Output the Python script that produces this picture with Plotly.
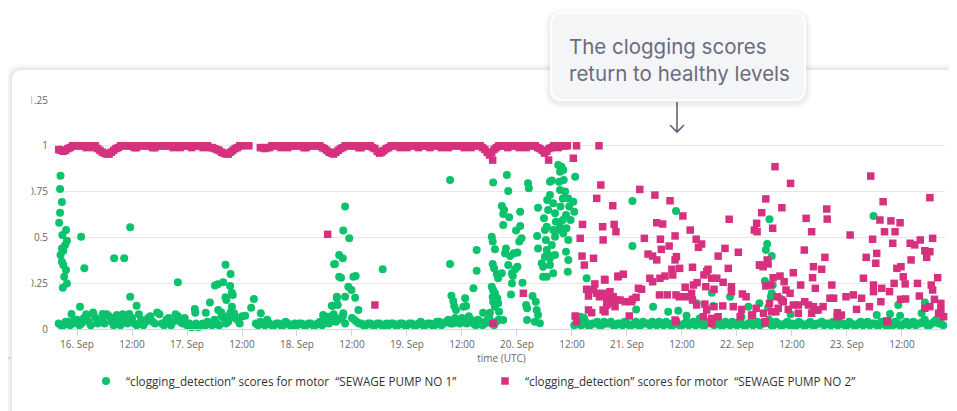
import numpy as np
import pandas as pd
import plotly.graph_objects as go

# time origin: 16 Sep 00:00 UTC, all times below are hours after it
T0 = pd.Timestamp("2022-09-16 00:00")

# pump 1 background level, hourly from 15 Sep 20:00 (hour -4)
pump1_base_start = -4
pump1_base = [
    0.03, 0.02, 0.04, 0.03,
    0.05, 0.03, 0.08, 0.02, 0.06, 0.04, 0.03, 0.07, 0.02, 0.05, 0.08, 0.03,
    0.06, 0.02, 0.05, 0.04, 0.07, 0.03, 0.08, 0.02, 0.06, 0.04, 0.07, 0.03,
    0.02, 0.01, 0.03, 0.02, 0.02, 0.03, 0.05, 0.02, 0.06, 0.04, 0.08, 0.05,
    0.07, None, None, 0.03, 0.04, 0.02, 0.03, 0.02, 0.03, 0.02, 0.03, 0.02,
    0.02, 0.03, 0.02, 0.03, 0.02, 0.04, 0.06, 0.03, 0.08, 0.05, 0.07, None,
    0.06, 0.04, 0.03, 0.02, 0.03, 0.02, 0.03, 0.02, 0.02, 0.03, 0.02, 0.03,
    0.02, 0.03, 0.02, 0.04, 0.02, 0.03, 0.02, 0.04, 0.03, 0.05, 0.03, 0.04,
    0.06, 0.03, 0.05, 0.02, 0.04, 0.03, 0.06, 0.02, 0.05, None, None, None,
    None, None, None, None, None, None, None, None, None, None, None, None,
    None, 0.03, 0.02, 0.04, 0.02, 0.03, 0.02, 0.04, 0.03, 0.02, 0.03, 0.02,
    0.03, 0.02, 0.04, 0.02, 0.03, 0.02, 0.03, 0.04, 0.02, 0.03, 0.02, 0.03,
    0.02, 0.04, 0.03, 0.02, 0.03, 0.02, 0.04, 0.02, 0.03, 0.02, 0.03, 0.04,
    0.02, 0.03, 0.02, 0.04, 0.03, 0.02, 0.03, 0.05, 0.02, 0.03, 0.02, 0.04,
    0.03, 0.02, 0.03, 0.02, 0.04, 0.02, 0.03, 0.02, 0.03, 0.04, 0.02, 0.03,
    0.02, 0.03, 0.02, 0.04, 0.03, 0.02, 0.03, 0.02, 0.04, 0.03, 0.02, 0.03,
    0.02, 0.04, 0.03, 0.02, 0.03, 0.05, 0.02, 0.04, 0.03, 0.02,
]

# pump 1 background level, the readings in between (from 15 Sep 20:30)
pump1_base_b_start = -3.5
pump1_base_b = [
    0.02, 0.04, 0.02, 0.05,
    0.02, 0.06, 0.04, 0.09, 0.03, 0.05, 0.08, 0.04, 0.06, 0.02, 0.05, 0.07,
    0.03, 0.08, 0.02, 0.06, 0.04, 0.09, 0.03, 0.05, 0.02, 0.08, 0.04, 0.06,
    0.03, 0.02, 0.01, 0.03, 0.04, 0.02, 0.03, 0.07, 0.03, 0.09, 0.06, 0.03,
    None, None, None, 0.02, 0.03, 0.05, 0.02, 0.03, 0.02, 0.04, 0.02, 0.03,
    0.03, 0.02, 0.03, 0.02, 0.03, 0.02, 0.05, 0.07, 0.04, 0.06, 0.03, None,
    0.05, 0.03, 0.02, 0.03, 0.02, 0.03, 0.02, 0.03, 0.03, 0.02, 0.03, 0.02,
    0.03, 0.02, 0.03, 0.02, 0.03, 0.02, 0.04, 0.02, 0.04, 0.03, 0.06, 0.03,
    0.04, 0.07, 0.03, 0.05, 0.02, 0.05, 0.03, 0.04, None, None, None, None,
    None, None, None, None, None, None, None, None, None, None, None, None,
    0.02, 0.03, 0.04, 0.02, 0.03, 0.04, 0.02, 0.03, 0.04, 0.02, 0.03, 0.04,
    0.02, 0.03, 0.02, 0.04, 0.03, 0.04, 0.02, 0.03, 0.04, 0.02, 0.04, 0.02,
    0.03, 0.02, 0.04, 0.03, 0.02, 0.04, 0.03, 0.04, 0.02, 0.04, 0.02, 0.03,
    0.04, 0.02, 0.03, 0.02, 0.04, 0.03, 0.04, 0.02, 0.04, 0.02, 0.03, 0.02,
    0.02, 0.04, 0.02, 0.03, 0.02, 0.03, 0.04, 0.03, 0.02, 0.03, 0.04, 0.02,
    0.04, 0.02, 0.03, 0.02, 0.04, 0.03, 0.02, 0.04, 0.02, 0.02, 0.04, 0.02,
    0.03, 0.02, 0.04, 0.03, 0.04, 0.02, 0.03, 0.05, 0.03,
]

# pump 1 readings away from the background level (hour, score)
pump1_outliers = [
    (-3.6, 0.837), (-3.7, 0.764), (-3.3, 0.693), (-3.7, 0.635), (-3.9, 0.58),
    (-2.4, 0.54), (-3.2, 0.513), (-2.2, 0.482), (-2.6, 0.459), (-3.3, 0.44),
    (-3.0, 0.427), (-3.6, 0.404), (-3.3, 0.367), (-3.0, 0.349), (-2.4, 0.322),
    (-2.8, 0.285), (-2.2, 0.249), (-3.1, 0.225), (-1.2, 0.082),
    (0.9, 0.504), (1.6, 0.331), (0.65, 0.122), (2.1, 0.058), (3.6, 0.082),
    (5.6, 0.082), (8.7, 0.076), (8.1, 0.386), (10.3, 0.386), (11.6, 0.555),
    (11.6, 0.176), (11.4, 0.082), (13.0, 0.127), (22.0, 0.255),
    (25.7, 0.109), (25.8, 0.089), (29.0, 0.144), (28.1, 0.089), (30.1, 0.237),
    (30.7, 0.244), (31.9, 0.255), (32.4, 0.351), (33.5, 0.3), (33.4, 0.235),
    (33.8, 0.198), (34.0, 0.186), (32.4, 0.173), (32.6, 0.158), (33.8, 0.122),
    (30.8, 0.104), (34.3, 0.086), (36.7, 0.073), (38.0, 0.116), (38.6, 0.164),
    (40.1, 0.086), (31.5, 0.09), (33.0, 0.07),
    (53.7, 0.076), (54.5, 0.067), (55.6, 0.127), (55.8, 0.127), (56.9, 0.131),
    (56.7, 0.168), (56.1, 0.353), (56.3, 0.355), (57.2, 0.404), (57.2, 0.285),
    (57.6, 0.28), (58.0, 0.386), (58.1, 0.537), (58.5, 0.668), (59.4, 0.495),
    (60.3, 0.285), (60.8, 0.289), (59.2, 0.231), (59.9, 0.213), (58.5, 0.176),
    (56.7, 0.176), (60.7, 0.17), (61.4, 0.104), (58.1, 0.086), (66.7, 0.326),
    (81.4, 0.813), (81.4, 0.355), (81.7, 0.182), (82.1, 0.153), (82.3, 0.126),
    (82.7, 0.104), (84.7, 0.168), (84.3, 0.122), (84.9, 0.126), (86.5, 0.222),
    (87.2, 0.431), (87.2, 0.318), (88.6, 0.089),
    (90.5, 0.504), (90.8, 0.8), (90.7, 0.477), (91.2, 0.435), (90.7, 0.355),
    (91.0, 0.331), (91.6, 0.3), (92.7, 0.304), (91.9, 0.277), (90.5, 0.231),
    (90.8, 0.213), (91.2, 0.195), (90.7, 0.176), (91.7, 0.168), (90.8, 0.149),
    (91.9, 0.14), (91.2, 0.122), (90.1, 0.089), (92.1, 0.094), (93.0, 0.049),
    (92.7, 0.671), (93.2, 0.65), (93.0, 0.628), (94.1, 0.753), (93.8, 0.841),
    (93.0, 0.568), (94.3, 0.61), (93.6, 0.44), (93.4, 0.413), (94.5, 0.398),
    (95.3, 0.413), (94.1, 0.349), (96.1, 0.417), (95.8, 0.537), (96.7, 0.64),
    (96.7, 0.562), (97.0, 0.495), (96.5, 0.477), (96.1, 0.34), (95.6, 0.326),
    (94.9, 0.304), (95.1, 0.289), (94.9, 0.249), (97.2, 0.253), (94.7, 0.189),
    (98.4, 0.795), (98.6, 0.768), (99.4, 0.18), (100.1, 0.149), (98.0, 0.131),
    (98.2, 0.113), (100.3, 0.104), (100.6, 0.076), (98.2, 0.049), (99.9, 0.04),
    (101.0, 0.031), (100.6, 0.662), (100.4, 0.508), (100.6, 0.44),
    (101.4, 0.359), (101.7, 0.285), (101.7, 0.34), (102.1, 0.395),
    (102.5, 0.431), (102.3, 0.486), (102.1, 0.54), (102.5, 0.558),
    (101.9, 0.604), (102.8, 0.65), (102.6, 0.704), (103.2, 0.731),
    (103.2, 0.804), (103.6, 0.81), (103.9, 0.686), (104.3, 0.632),
    (104.5, 0.586), (103.9, 0.54), (105.0, 0.54), (104.3, 0.504),
    (103.6, 0.459), (102.9, 0.404), (103.2, 0.386), (104.3, 0.404),
    (103.2, 0.349), (103.9, 0.304), (102.5, 0.285), (105.0, 0.895),
    (105.7, 0.886), (105.4, 0.859), (106.1, 0.868), (105.2, 0.804),
    (106.2, 0.813), (105.4, 0.759), (106.5, 0.75), (106.0, 0.713),
    (107.2, 0.713), (105.5, 0.668), (107.4, 0.668), (106.7, 0.622),
    (106.0, 0.595), (105.4, 0.558), (108.3, 0.695), (108.5, 0.64),
    (107.7, 0.595), (106.8, 0.55), (106.1, 0.522), (107.2, 0.486),
    (106.7, 0.422), (107.2, 0.377), (107.1, 0.313), (108.7, 0.831),
    (111.2, 0.277), (109.8, 0.067), (110.6, 0.062),
    (121.2, 0.699), (130.7, 0.644), (121.2, 0.453), (125.7, 0.122),
    (129.0, 0.094), (131.2, 0.1), (133.0, 0.073), (122.0, 0.107),
    (138.5, 0.198), (135.2, 0.14), (138.8, 0.126), (135.9, 0.058),
    (142.5, 0.176), (146.5, 0.122), (145.0, 0.067),
    (151.1, 0.599), (150.6, 0.464), (150.3, 0.431), (151.6, 0.398),
    (150.1, 0.262), (151.8, 0.24), (151.6, 0.195), (151.4, 0.176),
    (150.8, 0.118), (148.9, 0.14), (155.7, 0.08), (153.4, 0.168),
    (173.8, 0.617), (179.2, 0.131), (177.4, 0.082), (174.5, 0.076),
    (179.6, 0.073), (185.0, 0.144), (184.3, 0.086),
]

# pump 2 score, hourly from 15 Sep 20:00 until 20 Sep 11:00
pump2_band_start = -4
pump2_band = [
    0.98, 0.97, 0.985, 1.0,
    1.0, 1.0, 0.99, 1.0, 1.0, 0.975, 0.96, 0.955, 0.975, 0.99, 1.0, 1.0,
    1.0, 0.99, 1.0, 1.0, 1.0, 0.99, 1.0, 1.0, 1.0, 0.99, 1.0, 1.0,
    1.0, 0.99, 1.0, 1.0, 1.0, 0.99, 0.985, 0.975, 0.96, 0.955, 0.975, 0.99,
    1.0, None, None, None, 0.99, 0.985, 0.99, 1.0, 1.0, 1.0, 0.99, 1.0,
    1.0, 1.0, 0.99, 1.0, 1.0, 1.0, 0.985, 0.965, 0.955, 0.975, 0.99, 1.0,
    1.0, 1.0, 0.99, 1.0, 1.0, 0.985, 0.96, 0.975, 0.99, 1.0, 1.0, 1.0,
    0.99, 1.0, 1.0, 1.0, 1.0, 0.99, 1.0, 1.0, 1.0, 0.99, 1.0, 1.0,
    1.0, 1.0, 0.99, 1.0, 1.0, 0.98, 0.95, 0.98, 1.0, 1.0, 0.99, 1.0,
    1.0, 1.0, 0.99, 1.0, 1.0, 0.985, 0.96, 0.985, 1.0, 0.99, 1.0, 1.0,
]

# pump 2 score, the readings in between (from 15 Sep 20:30)
pump2_band_b_start = -3.5
pump2_band_b = [
    0.975, 0.975, 0.99, 1.0,
    1.0, 1.0, 1.0, 0.99, 0.985, 0.965, 0.955, 0.965, 0.985, 1.0, 1.0, 1.0,
    0.99, 1.0, 1.0, 1.0, 0.99, 1.0, 1.0, 1.0, 1.0, 1.0, 0.99, 1.0,
    1.0, 1.0, 1.0, 0.99, 1.0, 0.99, 0.98, 0.965, 0.955, 0.965, 0.985, 1.0,
    None, 1.0, None, None, 0.99, 0.99, 1.0, 1.0, 0.99, 1.0, 1.0, 1.0,
    1.0, 0.99, 1.0, 1.0, 1.0, 0.99, 0.975, 0.96, 0.965, 0.985, 1.0, 1.0,
    1.0, 0.99, 1.0, 1.0, 0.99, 0.97, 0.965, 0.985, 1.0, 1.0, 0.99, 1.0,
    1.0, 1.0, 0.99, 1.0, 1.0, 1.0, 1.0, 0.99, 1.0, 1.0, 1.0, 1.0,
    0.99, 1.0, 1.0, 1.0, 0.99, 0.965, 0.965, 0.99, 1.0, 1.0, 1.0, 1.0,
    0.99, 1.0, 1.0, 1.0, 0.99, 0.975, 0.97, 0.99, 1.0, 1.0, 1.0, None,
]

# pump 2 readings off the band (hour, score)
pump2_outliers = [
    (54.7, 0.517), (65.0, 0.131), (90.7, 0.922), (102.9, 0.922), (97.4, 0.195),
    (90.8, 0.031),
    (108.3, 0.932), (109.0, 1.0), (113.9, 1.0), (114.3, 0.786), (113.4, 0.713),
    (116.9, 0.673), (110.3, 0.571), (114.7, 0.558), (117.2, 0.571),
    (117.6, 0.531), (109.8, 0.495), (114.8, 0.486), (110.2, 0.398),
    (112.7, 0.386), (110.7, 0.349), (118.0, 0.285), (113.0, 0.246),
    (115.2, 0.267), (111.2, 0.217), (112.7, 0.213), (113.4, 0.195),
    (114.8, 0.195), (116.3, 0.204), (111.6, 0.18), (114.0, 0.176),
    (115.6, 0.168), (117.0, 0.176), (117.7, 0.158), (115.6, 0.131),
    (116.3, 0.14), (117.4, 0.122), (111.6, 0.104), (112.3, 0.089),
    (115.2, 0.094), (108.7, 0.071), (109.0, 0.04),
    (122.8, 0.762), (126.1, 0.731), (129.4, 0.7), (132.2, 0.617),
    (142.3, 0.599), (126.5, 0.58), (127.8, 0.573), (133.8, 0.54),
    (147.8, 0.54), (148.4, 0.531), (123.8, 0.495), (127.3, 0.49),
    (130.5, 0.508), (135.1, 0.49), (136.3, 0.464), (135.6, 0.446),
    (141.4, 0.44), (144.3, 0.419), (129.2, 0.453), (127.5, 0.435),
    (124.6, 0.409), (125.6, 0.398), (126.5, 0.377), (130.8, 0.395),
    (130.5, 0.377), (139.9, 0.398), (134.3, 0.337), (129.8, 0.326),
    (131.5, 0.331), (137.7, 0.326), (142.1, 0.331), (148.9, 0.349),
    (118.1, 0.289), (119.2, 0.299), (115.1, 0.271), (130.0, 0.295),
    (128.3, 0.289), (127.2, 0.277), (125.0, 0.277), (125.6, 0.258),
    (136.8, 0.295), (137.4, 0.313), (138.5, 0.277), (139.6, 0.277),
    (141.0, 0.255), (132.7, 0.228), (134.5, 0.24), (135.3, 0.253),
    (122.5, 0.222), (123.2, 0.217), (121.2, 0.162), (122.0, 0.173),
    (127.1, 0.186), (128.8, 0.186), (130.7, 0.186), (131.4, 0.176),
    (132.8, 0.176), (134.1, 0.195), (137.2, 0.231), (139.0, 0.217),
    (142.8, 0.231), (142.8, 0.204), (145.2, 0.191), (146.0, 0.176),
    (118.5, 0.158), (119.6, 0.149), (114.8, 0.104), (120.5, 0.071),
    (121.0, 0.149), (130.5, 0.049), (134.3, 0.158), (135.2, 0.131),
    (137.0, 0.136), (137.4, 0.104), (136.7, 0.067), (138.5, 0.058),
    (139.9, 0.067), (139.0, 0.122), (140.9, 0.126), (143.2, 0.122),
    (145.0, 0.107), (147.2, 0.076), (144.7, 0.067), (130.7, 0.04),
    (138.5, 0.031), (150.1, 0.034), (176.7, 0.044),
    (152.3, 0.886), (155.7, 0.795), (150.3, 0.71), (153.8, 0.662),
    (149.4, 0.635), (148.3, 0.577), (151.8, 0.55), (159.1, 0.604),
    (160.3, 0.531), (163.6, 0.655), (163.7, 0.6), (168.7, 0.513),
    (173.2, 0.835), (175.9, 0.695), (175.2, 0.595), (177.6, 0.59),
    (179.6, 0.58), (176.2, 0.531), (178.5, 0.531), (173.6, 0.49),
    (178.0, 0.468), (174.5, 0.413), (172.2, 0.391), (174.3, 0.359),
    (181.8, 0.468), (182.8, 0.459), (184.0, 0.486), (186.7, 0.495),
    (186.1, 0.717), (185.0, 0.427), (186.1, 0.422), (185.4, 0.391),
    (182.0, 0.377), (179.8, 0.34), (178.9, 0.331), (187.8, 0.28),
    (158.7, 0.431), (163.2, 0.391), (160.7, 0.34), (162.5, 0.326),
    (156.3, 0.307), (160.5, 0.28), (149.0, 0.349), (149.7, 0.34),
    (150.6, 0.377), (150.8, 0.355), (151.9, 0.28), (153.4, 0.289),
    (154.3, 0.258), (150.3, 0.235), (151.4, 0.24), (157.9, 0.24),
    (164.7, 0.24), (161.1, 0.222), (171.6, 0.277), (173.8, 0.24),
    (175.6, 0.222), (177.3, 0.204), (178.3, 0.249), (180.3, 0.285),
    (180.7, 0.246), (183.4, 0.249), (179.7, 0.162), (180.8, 0.164),
    (183.8, 0.18), (186.4, 0.24), (186.7, 0.213), (187.1, 0.162),
    (188.5, 0.14), (186.1, 0.122), (185.0, 0.113), (188.0, 0.086),
    (189.1, 0.067), (188.5, 0.104), (154.7, 0.213), (155.6, 0.195),
    (152.8, 0.176), (153.8, 0.158), (154.1, 0.149), (156.3, 0.131),
    (157.4, 0.131), (158.8, 0.149), (159.6, 0.131), (160.7, 0.122),
    (161.7, 0.104), (162.8, 0.122), (164.3, 0.168), (165.1, 0.168),
    (165.9, 0.089), (166.8, 0.076), (165.9, 0.067), (167.8, 0.176),
    (169.4, 0.186), (171.2, 0.168), (170.1, 0.107), (172.9, 0.122),
    (173.8, 0.204), (175.4, 0.149), (176.9, 0.04), (148.2, 0.113),
    (147.4, 0.076), (149.8, 0.086), (150.1, 0.04), (151.1, 0.14),
    (151.6, 0.094), (152.5, 0.094), (153.0, 0.113), (157.4, 0.086),
    (160.3, 0.086), (161.4, 0.104), (155.2, 0.107),
]

tick_hours = [0, 12, 24, 36, 48, 60, 72, 84, 96, 108, 120, 132, 144, 156, 168, 180]
tick_labels = ["16. Sep", "12:00", "17. Sep", "12:00", "18. Sep", "12:00",
               "19. Sep", "12:00", "20. Sep", "12:00", "21. Sep", "12:00",
               "22. Sep", "12:00", "23. Sep", "12:00"]
x_window = [-4.15, 189.4]

name1 = "“clogging_detection” scores for motor  “SEWAGE PUMP NO 1”"
name2 = "“clogging_detection” scores for motor  “SEWAGE PUMP NO 2”"
note = "The clogging scores<br>return to healthy levels"

GREEN = "#0cc26d"
PINK = "#d6317f"
FONT = "Open Sans, Arial, sans-serif"


def to_time(hours):
    return T0 + pd.to_timedelta(np.asarray(hours, dtype=float), unit="h")


def hourly(start, values):
    return to_time(start + np.arange(len(values)))


# the page puts the figure 8px in from the window corner
OFF = 8
W, H = 957 - OFF, 411 - OFF
# plot area in figure pixels
PL, PR, PT, PB = 58 - OFF, 945 - OFF, 100 - OFF, 329 - OFF


def p(x, y):
    """window pixel -> pixel offset from the plot's bottom-left corner"""
    return f"{x - OFF - PL},{PB - (y - OFF)}"


def rpath(x0, y0, x1, y1, r):
    return (f"M{p(x0 + r, y0)} L{p(x1 - r, y0)} Q{p(x1, y0)} {p(x1, y0 + r)} "
            f"L{p(x1, y1 - r)} Q{p(x1, y1)} {p(x1 - r, y1)} "
            f"L{p(x0 + r, y1)} Q{p(x0, y1)} {p(x0, y1 - r)} "
            f"L{p(x0, y0 + r)} Q{p(x0, y0)} {p(x0 + r, y0)} Z")


def pix_shape(path, fill=None, line_color=None, line_width=0, layer="below"):
    d = dict(type="path", xref="paper", yref="paper", xsizemode="pixel",
             ysizemode="pixel", xanchor=0, yanchor=0, path=path, layer=layer,
             line=dict(color=line_color or fill, width=line_width))
    if fill:
        d["fillcolor"] = fill
    return d


fig = go.Figure()

for hrs, vals, show in [(hourly(pump1_base_start, pump1_base), pump1_base, True),
                        (hourly(pump1_base_b_start, pump1_base_b), pump1_base_b, False),
                        (to_time([h for h, _ in pump1_outliers]),
                         [v for _, v in pump1_outliers], False)]:
    fig.add_trace(go.Scatter(
        x=hrs, y=vals, mode="markers", name=name1, legendgroup="p1",
        showlegend=show, cliponaxis=False,
        marker=dict(color=GREEN, size=8, symbol="circle"),
    ))

for hrs, vals, show in [(hourly(pump2_band_start, pump2_band), pump2_band, True),
                        (hourly(pump2_band_b_start, pump2_band_b), pump2_band_b, False),
                        (to_time([h for h, _ in pump2_outliers]),
                         [v for _, v in pump2_outliers], False)]:
    fig.add_trace(go.Scatter(
        x=hrs, y=vals, mode="markers", name=name2, legendgroup="p2",
        showlegend=show, cliponaxis=False,
        marker=dict(color=PINK, size=7.5, symbol="square"),
    ))

shapes = []
# card shadow + card
for grow, alpha in [(6, 0.025), (4, 0.035), (2, 0.05)]:
    shapes.append(pix_shape(rpath(12 - grow, 70 - grow, 990, 460, 10 + grow),
                            f"rgba(60,60,80,{alpha})"))
shapes.append(pix_shape(rpath(12, 70, 990, 460, 10), "#ffffff"))
# small divider line on the far left
shapes.append(pix_shape(f"M{p(0, 358)} L{p(11, 358)}", line_color="#c9c9cf",
                        line_width=1.5))
# the card's inner edge trims the widest y labels
shapes.append(pix_shape(f"M{p(14, 90)} L{p(31.5, 90)} L{p(31.5, 340)} L{p(14, 340)} Z",
                        "#ffffff", layer="above"))
# callout box shadow + box
for grow, alpha in [(7, 0.02), (5, 0.03), (3, 0.045)]:
    shapes.append(pix_shape(rpath(551 - grow, 16 - grow, 805 + grow, 102 + grow, 12 + grow),
                            f"rgba(60,60,80,{alpha})", layer="above"))
shapes.append(pix_shape(rpath(551, 13, 805, 100, 12), "#f4f5f7",
                        line_color="#ffffff", line_width=2, layer="above"))
# arrow
shapes.append(pix_shape(f"M{p(677, 102)} L{p(677, 132)} "
                        f"M{p(670, 125)} L{p(677, 132)} L{p(684, 125)}",
                        line_color="#62627a", line_width=1.6, layer="above"))

fig.update_layout(
    width=W, height=H,
    margin=dict(l=PL, r=W - PR, t=PT, b=H - PB),
    paper_bgcolor="#ffffff", plot_bgcolor="rgba(0,0,0,0)",
    font=dict(family=FONT, color="#666666", size=10),
    shapes=shapes,
    showlegend=True,
    legend=dict(orientation="h", x=(86 - OFF - PL) / (PR - PL), xanchor="left",
                y=(PB - (381 - OFF)) / (PB - PT), yanchor="middle",
                entrywidth=354, entrywidthmode="pixels",
                font=dict(size=11.7, color="#333333"),
                bgcolor="rgba(0,0,0,0)"),
    annotations=[dict(text=note, xref="paper", yref="paper",
                      x=(567 - OFF - PL) / (PR - PL),
                      y=(PB - (59.5 - OFF)) / (PB - PT),
                      xanchor="left", yanchor="middle", align="left",
                      showarrow=False,
                      font=dict(family="Inter, sans-serif", size=20.5, color="#6b6b80"))],
)

fig.update_xaxes(
    type="date", range=list(to_time(x_window)),
    tickvals=to_time(tick_hours), ticktext=tick_labels,
    showgrid=False, zeroline=False, showline=True, linecolor="#ccd6eb",
    linewidth=1, ticks="outside", ticklen=6, tickcolor="#ccd6eb",
    tickfont=dict(size=10, color="#666666"),
    title=dict(text="time (UTC)", font=dict(size=10, color="#666666"), standoff=3),
)
fig.update_yaxes(
    range=[0, 1.25], tickvals=[0, 0.25, 0.5, 0.75, 1, 1.25],
    ticktext=["0", "0.25", "0.5", "0.75", "1", "1.25"],
    showgrid=True, gridcolor="#e6e6e6", gridwidth=1, zeroline=False,
    showline=False, ticks="", ticklabelstandoff=9,
    tickfont=dict(size=10, color="#666666"),
)

fig.write_html("out.html")
